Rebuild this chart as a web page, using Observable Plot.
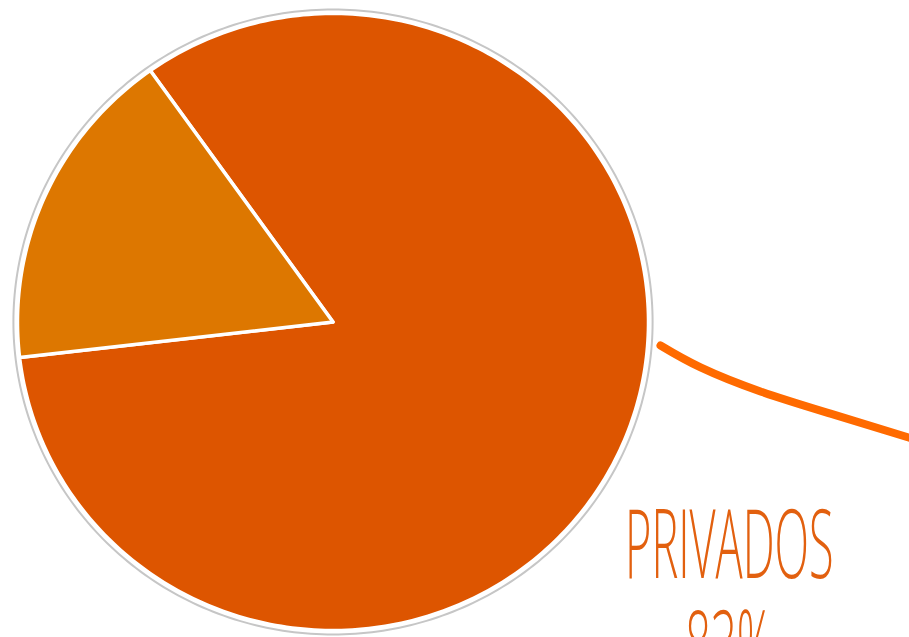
<!DOCTYPE html>
<html>
<head>
<meta charset="utf-8">
<script src="https://cdn.jsdelivr.net/npm/d3@7"></script>
<script src="https://cdn.jsdelivr.net/npm/@observablehq/plot@0.6"></script>
<style>
  html, body { margin: 0; padding: 0; background: #ffffff; overflow: hidden; }
</style>
</head>
<body>
<div id="chart"></div>
<script>
// ---- data ----
const categories = ["PRIVADOS", "OTROS"];
const shares = [83, 17];                 // percent
const sliceColors = ["#DD5500", "#DD7700"];
const startAngleDeg = 324.6;             // where the first slice begins (clockwise from 12 o'clock)
const labelLines = ["PRIVADOS", "83%"];
// connector curve, in pie-radius units (centre = 0,0)
const connectorX = [1.038, 1.165, 1.355, 1.577, 1.83];
const connectorY = [-0.076, -0.147, -0.225, -0.297, -0.376];
const labelX = 1.257;
const labelY = [-0.608, -0.936];         // cap tops of the two label lines

// ---- build geometry in pie units ----
const W = 909, H = 637;
const cx = 332.5, cy = 321.5, rx = 315.5, ry = 308.5;

function arcPoints(a0, a1, r, withCenter) {
  const pts = [];
  if (withCenter) pts.push({x: 0, y: 0});
  const n = Math.max(8, Math.ceil(Math.abs(a1 - a0) / 1));
  for (let i = 0; i <= n; i++) {
    const a = (a0 + (a1 - a0) * i / n) * Math.PI / 180;
    pts.push({x: r * Math.sin(a), y: r * Math.cos(a)});
  }
  return pts;
}

const total = d3.sum(shares);
let acc = startAngleDeg;
const slices = categories.map((c, i) => {
  const a0 = acc, a1 = acc + shares[i] / total * 360;
  acc = a1;
  return {name: c, color: sliceColors[i], pts: arcPoints(a0, a1, 1, true)};
});
const ring = arcPoints(0, 360, 1.013, false);
const connector = connectorX.map((x, i) => ({x, y: connectorY[i]}));
const labels = labelLines.map((t, i) => ({t, x: labelX, y: labelY[i]}));

const marks = [
  Plot.line(ring, {x: "x", y: "y", stroke: "#c6c6c6", strokeWidth: 2, curve: "linear-closed"}),
  ...slices.map(s => Plot.line(s.pts, {x: "x", y: "y", fill: s.color, stroke: "#ffffff", strokeWidth: 3.5, strokeLinejoin: "round", curve: "linear-closed"})),
  Plot.line(connector, {x: "x", y: "y", stroke: "#FF6A00", strokeWidth: 8, strokeLinecap: "round", curve: "natural"}),
  Plot.text(labels, {x: "x", y: "y", text: "t", fill: "#E2600F", fontSize: 96, fontWeight: 300, fontFamily: "Open Sans", textAnchor: "middle", lineAnchor: "top", className: "lbl"})
];

const chart = Plot.plot({
  width: W, height: H,
  margin: 0,
  x: {domain: [-cx / rx, (W - cx) / rx], range: [0, W], axis: null},
  y: {domain: [(cy - H) / ry, cy / ry], range: [H, 0], axis: null},
  style: {background: "#ffffff", overflow: "hidden"},
  marks
});
document.getElementById("chart").appendChild(chart);

// condense the label horizontally (reference uses a condensed light face)
const g = chart.querySelector("g.lbl") || chart.querySelector('g[aria-label="text"]');
if (g) {
  const bb = g.getBBox();
  const mid = bb.x + bb.width / 2;
  const s = 0.47;
  const prev = g.getAttribute("transform") || "";
  g.setAttribute("transform", `translate(${mid},0) scale(${s},1) translate(${-mid},0) ${prev}`);
}
</script>
</body>
</html>
